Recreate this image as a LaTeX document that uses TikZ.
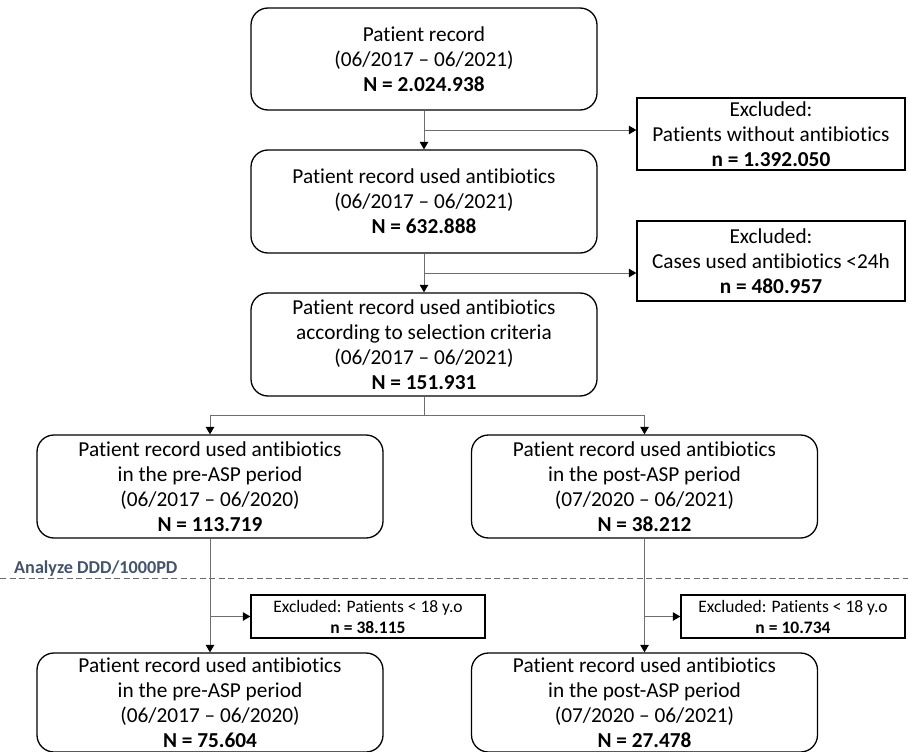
\documentclass[tikz,border=0pt]{standalone}
\usepackage{fontspec}
\setmainfont{Carlito}[Ligatures=NoCommon]
\usepackage{tikz}
\usetikzlibrary{positioning,arrows.meta,calc}
\usepackage{xcolor}
\definecolor{linegray}{RGB}{110,110,110}
\definecolor{cutgray}{RGB}{100,106,118}
\definecolor{labelblue}{HTML}{44546A}

\begin{document}
\begin{tikzpicture}[
      x=1pt, y=-1pt,
      font=\fontsize{21.3}{25}\selectfont,
      box/.style={
        draw=black, line width=1.3pt, rounded corners=17pt,
        align=center, inner sep=0pt,
        minimum width=346pt, minimum height=103pt
      },
      exbox/.style={
        draw=black, line width=1.3pt,
        align=center, inner sep=0pt
      },
      small/.style={font=\fontsize{17.5}{21}\selectfont},
      conn/.style={line width=1pt, linegray},
      arr/.style={-{Triangle[width=8.5pt,length=7.5pt,black]}, conn},
      cutline/.style={line width=1pt, cutgray, dash pattern=on 6pt off 3.5pt}
    ]
      \useasboundingbox (0,0) rectangle (908,752);

      % main flow
      \node[box, minimum height=102pt] (rec) at (424,59)
        {Patient record\\(06/2017 -- 06/2021)\\\textbf{N = 2.024.938}};
      \node[box] (abx) at (424,201.5)
        {Patient record used antibiotics\\(06/2017 -- 06/2021)\\\textbf{N = 632.888}};
      \node[box] (sel) at (424,344.5)
        {Patient record used antibiotics\\according to selection criteria\\(06/2017 -- 06/2021)\\\textbf{N = 151.931}};
      \node[box] (pre) at (210,486.5)
        {Patient record used antibiotics\\in the pre-ASP period\\(06/2017 -- 06/2020)\\\textbf{N = 113.719}};
      \node[box] (post) at (644.5,486.5)
        {Patient record used antibiotics\\in the post-ASP period\\(07/2020 -- 06/2021)\\\textbf{N = 38.212}};
      \node[box, minimum height=99pt] (preadult) at (210,702.5)
        {Patient record used antibiotics\\in the pre-ASP period\\(06/2017 -- 06/2020)\\\textbf{N = 75.604}};
      \node[box, minimum height=99pt] (postadult) at (644.5,702.5)
        {Patient record used antibiotics\\in the post-ASP period\\(07/2020 -- 06/2021)\\\textbf{N = 27.478}};

      % exclusions
      \node[exbox, minimum width=268pt, minimum height=72pt] (exnoabx) at (771,134)
        {Excluded:\\Patients without antibiotics\\\textbf{n = 1.392.050}};
      \node[exbox, minimum width=268pt, minimum height=80pt] (exshort) at (771,261)
        {Excluded:\\Cases used antibiotics <24h\\\textbf{n = 480.957}};
      \node[exbox, small, minimum width=234pt, minimum height=43pt] (exprechild) at (368,616.5)
        {Excluded: Patients < 18 y.o\\\textbf{n = 38.115}};
      \node[exbox, small, minimum width=224pt, minimum height=43pt] (expostchild) at (793,616.5)
        {Excluded: Patients < 18 y.o\\\textbf{n = 10.734}};

      % analysis cut
      \coordinate (cutL) at (0,578);
      \coordinate (cutR) at (908,578);
      \draw[cutline] (cutL) -- (cutR);
      \node[anchor=base west, font=\fontsize{18.2}{22}\selectfont\bfseries, text=labelblue,
        inner sep=0pt] (cutlbl) at (14,573) {Analyze DDD/1000PD};

      % connectors
      \draw[arr] (rec) -- (abx);
      \coordinate (b1) at ($(rec.south)!0.5!(abx.north)$);
      \draw[arr] (b1) -- (b1 -| exnoabx.west);
      \draw[arr] (abx) -- (sel);
      \coordinate (b2) at ($(abx.south)!0.5!(sel.north)$);
      \draw[arr] (b2) -- (b2 -| exshort.west);
      \coordinate (split) at ($(sel.south)!0.5!(sel.south |- pre.north)$);
      \draw[conn] (sel.south) -- (split);
      \draw[arr] (split) -| (pre.north);
      \draw[arr] (split) -| (post.north);
      \draw[arr] (pre.south) -- (preadult.north);
      \draw[arr] (pre.south |- exprechild.west) -- (exprechild.west);
      \draw[arr] (post.south) -- (postadult.north);
      \draw[arr] (post.south |- expostchild.west) -- (expostchild.west);
    \end{tikzpicture}
\end{document}
